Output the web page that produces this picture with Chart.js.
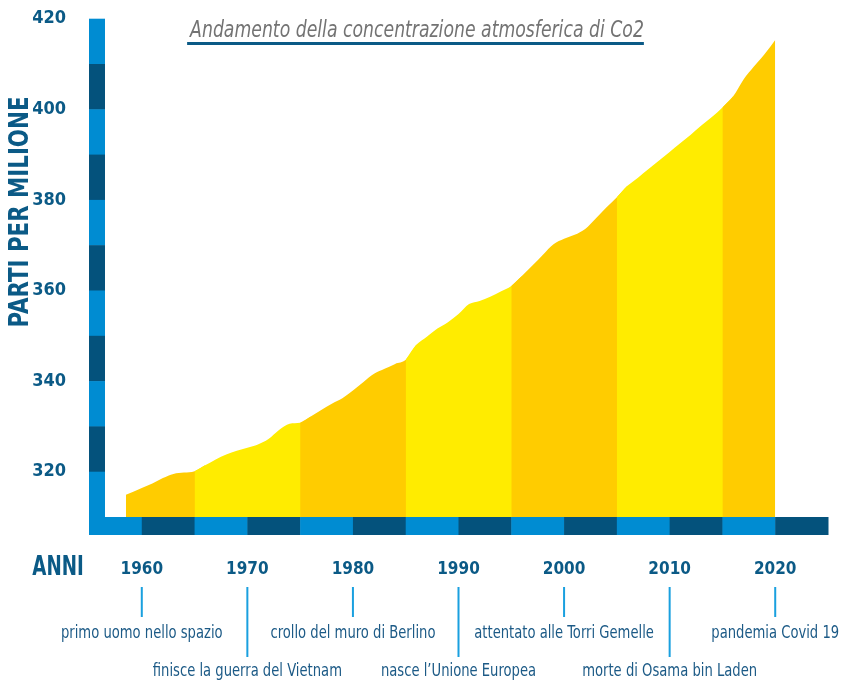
<!DOCTYPE html>
<html>
<head>
<meta charset="utf-8">
<script src="https://cdn.jsdelivr.net/npm/chart.js@4.4.1/dist/chart.umd.min.js"></script>
<style>
  body { margin: 0; background: #fff; }
  #wrap { width: 843px; height: 683px; position: relative; }
</style>
</head>
<body>
<div id="wrap"><canvas id="co2-canvas"></canvas></div>
<script>
  // Annual CO2 concentration (ppm)
  const years = [1958.5, 1960, 1961, 1962, 1963, 1964, 1965, 1966, 1967, 1968, 1969,
    1970, 1971, 1972, 1973, 1974, 1975, 1976, 1977, 1978, 1979,
    1980, 1981, 1982, 1983, 1984, 1985, 1986, 1987, 1988, 1989,
    1990, 1991, 1992, 1993, 1994, 1995, 1996, 1997, 1998, 1999,
    2000, 2001, 2002, 2003, 2004, 2005, 2006, 2007, 2008, 2009,
    2010, 2011, 2012, 2013, 2014, 2015, 2016, 2017, 2018, 2019, 2020];
  const co2 = [314.9, 316.4, 317.4, 318.6, 319.5, 319.8, 320.1, 321.4, 322.7, 323.8, 324.6,
    325.3, 326.0, 327.2, 329.2, 330.6, 330.8, 332.2, 333.6, 335.0, 336.2,
    337.9, 339.8, 341.6, 342.7, 343.8, 344.7, 348.0, 349.8, 351.6, 353.0,
    354.8, 357.0, 357.7, 358.6, 359.8, 361.0, 363.2, 365.5, 367.9, 370.2,
    371.4, 372.3, 373.6, 375.9, 378.3, 380.6, 383.1, 384.9, 386.8, 388.7,
    390.6, 392.5, 394.4, 396.4, 398.3, 400.4, 402.8, 406.6, 409.5, 412.2, 415.3];

  // Colour bands change at these years
  const bandEdges = [1965, 1975, 1985, 1995, 2005, 2015];
  const bandColors = ['#ffcc00', '#ffec00'];

  const tickYears = [1960, 1970, 1980, 1990, 2000, 2010, 2020];
  const tickPpm = [320, 340, 360, 380, 400, 420];

  // Events under the time axis (row 0 = upper, row 1 = lower)
  const eventYears = [1960, 1970, 1980, 1990, 2000, 2010, 2020];
  const eventLabels = ['primo uomo nello spazio', 'finisce la guerra del Vietnam',
    'crollo del muro di Berlino', 'nasce l\u2019Unione Europea',
    'attentato alle Torri Gemelle', 'morte di Osama bin Laden', 'pandemia Covid 19'];
  const eventRows = [0, 1, 0, 1, 0, 1, 0];

  const FONT = "'DejaVu Sans Condensed', 'Liberation Sans Narrow', 'Open Sans', sans-serif";
  const DARK = '#04527c';
  const LIGHT = '#008cd2';
  const TEXT = '#0b5a86';

  // split the series into one dataset per band; each band runs one point
  // past its edge, under the next band, so no seam shows
  let datasets = [];
  let cuts = [years[0]].concat(bandEdges, [years[years.length - 1]]);
  for (let b = 0; b < cuts.length - 1; b++) {
    let pts = [];
    for (let i = 0; i < years.length; i++) {
      if (years[i] >= cuts[b] && years[i] <= cuts[b + 1]) {
        pts.push({x: years[i], y: co2[i]});
      } else if (years[i] > cuts[b + 1] && years[i - 1] === cuts[b + 1]) {
        pts.push({x: years[i], y: co2[i]});
      }
    }
    datasets.push({
      data: pts,
      order: 100 - b,   // later bands on top
      fill: 'start',
      backgroundColor: bandColors[b % 2],
      borderWidth: 0,
      pointRadius: 0,
      cubicInterpolationMode: 'monotone'
    });
  }

  // draw text squeezed horizontally, to get close to a condensed face
  function squeezedText(ctx, text, x, y, sx) {
    ctx.save();
    ctx.translate(x, y);
    ctx.scale(sx, 1);
    ctx.fillText(text, 0, 0);
    ctx.restore();
  }

  const axisDecor = {
    id: 'axisDecor',
    afterDatasetsDraw(chart) {
      const ctx = chart.ctx;
      const xs = chart.scales.x, ys = chart.scales.y;
      const area = chart.chartArea;
      const barW = 16, barH = 18;
      ctx.save();

      // vertical striped bar, 10 ppm per stripe, light at the top
      for (let v = ys.max; v > ys.min; v -= 10) {
        let k = Math.round((ys.max - v) / 10);
        ctx.fillStyle = k % 2 === 0 ? LIGHT : DARK;
        let top = ys.getPixelForValue(v), bot = ys.getPixelForValue(v - 10);
        ctx.fillRect(area.left, top, barW, bot - top + 0.5);
      }
      // horizontal striped bar, 5 years per stripe
      for (let y = xs.min; y < xs.max; y += 5) {
        let k = Math.round((y - xs.min) / 5);
        ctx.fillStyle = k % 2 === 0 ? LIGHT : DARK;
        let l = xs.getPixelForValue(y), r = xs.getPixelForValue(y + 5);
        ctx.fillRect(l, area.bottom, r - l + 0.5, barH);
      }

      // events
      ctx.textAlign = 'center';
      ctx.textBaseline = 'middle';
      ctx.font = '17px ' + FONT;
      for (let i = 0; i < eventYears.length; i++) {
        let px = xs.getPixelForValue(eventYears[i]);
        let row = eventRows[i];
        ctx.fillStyle = '#1aa0df';
        ctx.fillRect(px - 1, area.bottom + 70, 2, row === 0 ? 30 : 70);
        ctx.fillStyle = '#1c5a86';
        squeezedText(ctx, eventLabels[i], px, area.bottom + (row === 0 ? 117 : 155), 0.86);
      }

      // ANNI
      ctx.fillStyle = TEXT;
      ctx.font = 'bold 26px ' + FONT;
      squeezedText(ctx, 'ANNI', 58, area.bottom + 51, 0.78);

      // y title
      ctx.save();
      ctx.translate(21, 212);
      ctx.rotate(-Math.PI / 2);
      ctx.font = 'bold 27px ' + FONT;
      squeezedText(ctx, 'PARTI PER MILIONE', 0, 0, 0.88);
      ctx.restore();

      // main title with underline
      ctx.font = 'italic 23px ' + FONT;
      ctx.fillStyle = '#737373';
      ctx.textBaseline = 'alphabetic';
      let t = 'Andamento della concentrazione atmosferica di Co2';
      let sx = 0.835;
      squeezedText(ctx, t, 417, 37, sx);
      let w = ctx.measureText(t).width * sx;
      ctx.fillStyle = '#0b5a86';
      ctx.fillRect(417 - w / 2 - 3, 42, w + 3, 3);

      ctx.restore();
    }
  };

  let co2_chart = new Chart(document.getElementById('co2-canvas'), {
    type: 'line',
    data: {datasets: datasets},
    plugins: [axisDecor],
    options: {
      responsive: true,
      maintainAspectRatio: false,
      animation: false,
      layout: {padding: {top: 18.7, right: 15, left: 0, bottom: 0}},
      plugins: {legend: {display: false}, tooltip: {enabled: false}},
      scales: {
        x: {
          type: 'linear',
          min: 1955,
          max: 2025,
          grid: {display: false},
          border: {display: false},
          afterBuildTicks: function(scale) {
            scale.ticks = tickYears.map(v => ({value: v}));
          },
          afterFit: function(scale) {
            scale.height = 166;
            scale.paddingLeft = 0;
            scale.paddingRight = 0;
          },
          ticks: {
            padding: 34,
            color: TEXT,
            font: {family: FONT, size: 17, weight: 'bold'},
            callback: v => String(v),
            maxRotation: 0
          }
        },
        y: {
          min: 310,
          max: 420,
          grid: {display: false},
          border: {display: false},
          afterBuildTicks: function(scale) {
            scale.ticks = tickPpm.map(v => ({value: v}));
          },
          afterFit: function(scale) {
            scale.width = 89;
            scale.paddingTop = 0;
            scale.paddingBottom = 0;
          },
          ticks: {
            padding: 15,
            color: TEXT,
            font: {family: FONT, size: 18, weight: 'bold'}
          }
        }
      }
    }
  });
</script>
</body>
</html>
